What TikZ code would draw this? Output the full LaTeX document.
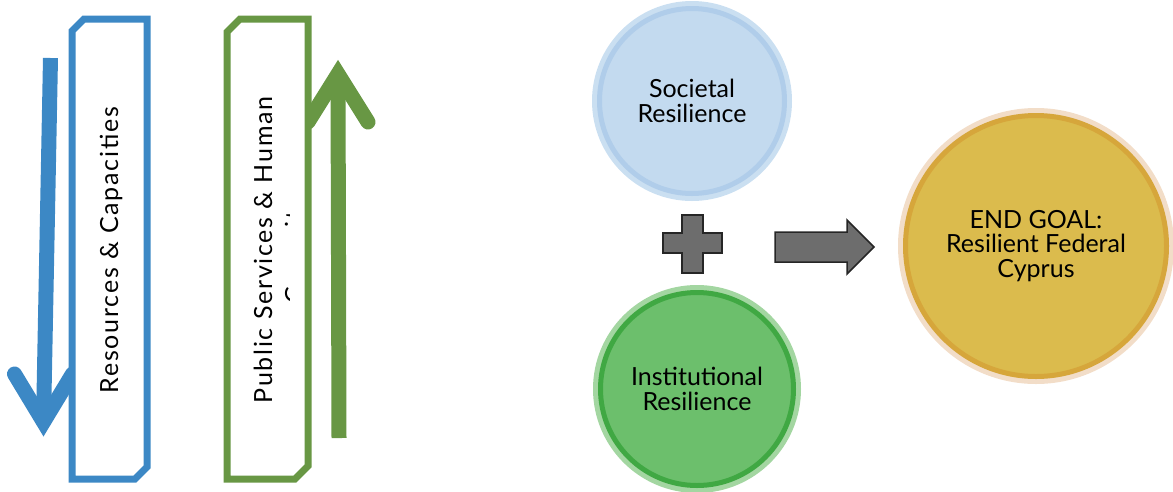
\documentclass[tikz,border=0pt]{standalone}
\usepackage{fontspec}
\setmainfont{Lato}
\definecolor{resblue}{HTML}{3C88C5}
\definecolor{pubgreen}{HTML}{689744}
\definecolor{socfill}{HTML}{C3DAEF}
\definecolor{socring}{HTML}{B0CDEA}
\definecolor{socglow}{HTML}{CADFF1}
\definecolor{insfill}{HTML}{6CBF6C}
\definecolor{insring}{HTML}{40A843}
\definecolor{insglow}{HTML}{A3D6A1}
\definecolor{goalfill}{HTML}{DBBB4D}
\definecolor{goalring}{HTML}{D6A63B}
\definecolor{goalglow}{HTML}{F2DDC8}
\definecolor{shapegray}{HTML}{6D6D6D}
\tikzset{
  bigarrow/.style={line width=15pt},
  sidebox/.style={line width=7pt, fill=white, draw=#1, line join=miter},
  sidetext/.style={rotate=90, anchor=base, font=\fontsize{25}{30}\selectfont\addfontfeature{LetterSpace=7}},
  ball/.style n args={4}{circle, inner sep=0pt, minimum size=#1, fill=#2, draw=#3, line width=5pt,
    preaction={draw=#4, line width=15pt}, align=center, font=\fontsize{25}{24.5}\selectfont},
  grayshape/.style={fill=shapegray, draw=black!85, line width=1.5pt, line join=miter}
}
\begin{document}
\begin{tikzpicture}[x=1pt, y=-1pt]
\useasboundingbox (0,0) rectangle (1173,491);
\draw[bigarrow, resblue] (50.5,58) -- (43.5,422);
\draw[bigarrow, resblue, line cap=round, line join=miter] (14.5,374) -- (43.5,422) -- (72.5,374);
\draw[bigarrow, pubgreen] (339,438) -- (338,74);
\draw[bigarrow, pubgreen, line cap=round, line join=miter] (308,122) -- (338,74) -- (368,122);
\draw[sidebox=resblue] (72,31) -- (84,19) -- (147,19) -- (147,467) -- (135,479) -- (72,479) -- cycle;
\draw[sidebox=pubgreen] (227,32) -- (240,19) -- (308,19) -- (308,466) -- (295,479) -- (227,479) -- cycle;
\node[sidetext] (res) at (118,250) {Resources \& Capacities};
\node[sidetext] (pub) at (272,250) {Public Services \& Human};
\begin{scope}
\clip (250,30) rectangle (289.5,470);
\node[sidetext] (pub2) at (303,250) {Capacity};
\end{scope}
\node[ball={185pt}{socfill}{socring}{socglow}, text depth=0pt] (soc) at (692,101) {Societal\\Resilience};
\node[ball={193pt}{insfill}{insring}{insglow}] (ins) at (697,389) {Institutional\\Resilience};
\node[ball={261pt}{goalfill}{goalring}{goalglow}] (goal) at (1036,246) {END GOAL:\\Resilient Federal\\Cyprus};
\draw[grayshape] (682,215) -- (703,215) -- (703,233) -- (722,233) -- (722,253) -- (703,253) -- (703,273)
  -- (682,273) -- (682,253) -- (663,253) -- (663,233) -- (682,233) -- cycle;
\draw[grayshape] (775,232) -- (847,232) -- (847,220) -- (874,247) -- (847,274) -- (847,262) -- (775,262) -- cycle;
\end{tikzpicture}
\end{document}
